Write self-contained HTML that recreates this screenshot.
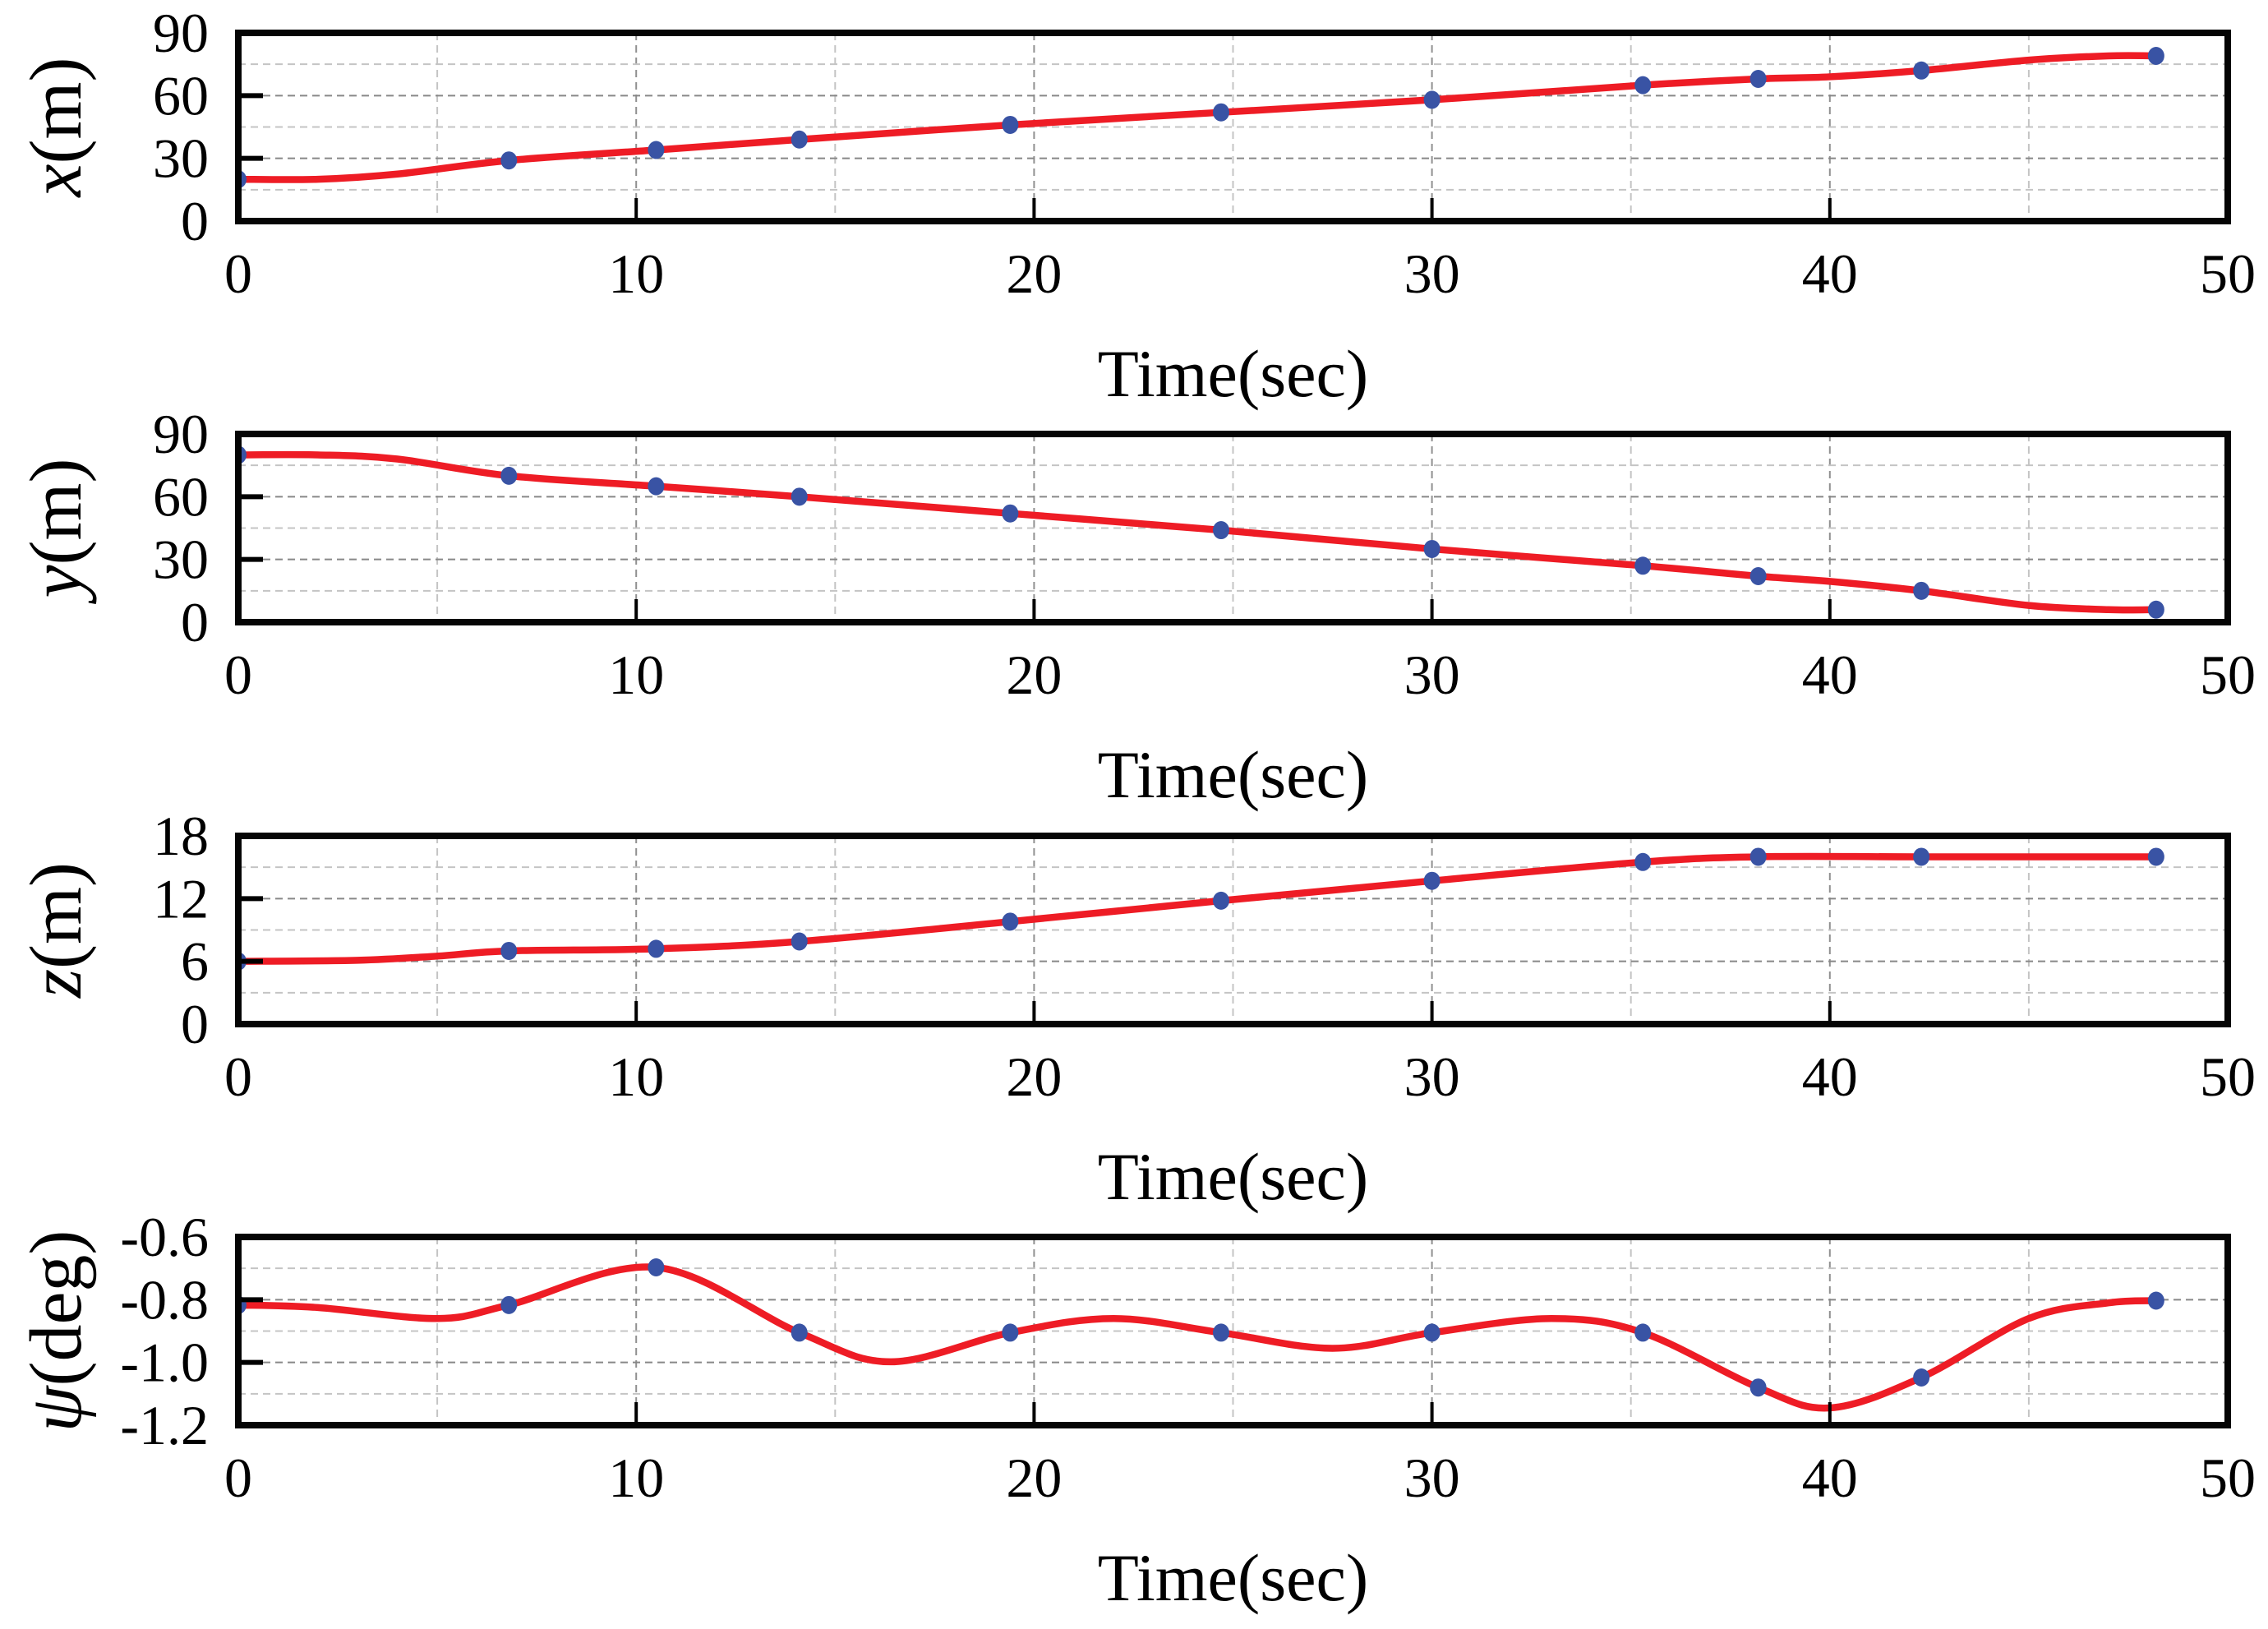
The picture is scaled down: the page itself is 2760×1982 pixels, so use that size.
<!DOCTYPE html>
<html><head><meta charset="utf-8"><style>
html,body{margin:0;padding:0;background:#fff}
svg{display:block}
text{font-family:"Liberation Serif","DejaVu Serif",serif;fill:#000}
</style></head><body>
<svg id="chart" width="2760" height="1982" viewBox="0 0 2760 1982" xmlns="http://www.w3.org/2000/svg"></svg>
<script>
// marker data (shared time axis)
const markerT = [0, 6.8, 10.5, 14.1, 19.4, 24.7, 30, 35.3, 38.2, 42.3, 48.2];
const markerX = [20, 29, 34, 39, 46, 52, 58, 65, 68, 72, 79];
const markerY = [80, 70, 65, 60, 52, 44, 35, 27, 22, 15, 6];
const markerZ = [6, 7, 7.2, 7.9, 9.8, 11.8, 13.7, 15.5, 16, 16, 16];
const markerPsi = [-0.817, -0.817, -0.697, -0.905, -0.905, -0.905, -0.905, -0.905, -1.08, -1.048, -0.803];
// curve data
const curveTX = [0, 2, 4, 6.8, 10.5, 14.1, 19.4, 24.7, 30, 35.3, 38.2, 40, 42.3, 45, 47, 48.2];
const curveX = [20, 20, 22.5, 29, 34, 39, 46, 52, 58, 65, 68, 69, 72, 77, 79, 79];
const curveTY = [0, 2, 4, 6.8, 10.5, 14.1, 19.4, 24.7, 30, 35.3, 38.2, 40, 42.3, 45, 47, 48.2];
const curveY = [80, 80, 78, 70, 65, 60, 52, 44, 35, 27, 22, 19.5, 15, 8, 6, 6];
const curveTZ = [0, 3, 5, 6.8, 10.5, 14.1, 19.4, 24.7, 30, 35.3, 38.2, 42.3, 48.2];
const curveZ = [6, 6.1, 6.5, 7, 7.2, 7.9, 9.8, 11.8, 13.7, 15.5, 16, 16, 16];
const curveTPsi = [0, 2, 5, 6.8, 10.5, 14.1, 16.4, 19.4, 22, 24.7, 27.5, 30, 33, 35.3, 38.2, 40, 42.3, 45, 47, 48.2];
const curvePsi = [-0.817, -0.825, -0.86, -0.817, -0.697, -0.905, -0.998, -0.905, -0.86, -0.905, -0.955, -0.905, -0.86, -0.905, -1.08, -1.145, -1.048, -0.86, -0.81, -0.803];
// ticks
const xTicks = [0, 10, 20, 30, 40, 50];
const yTicksX = ["0", "30", "60", "90"];
const yTicksZ = ["0", "6", "12", "18"];
const yTicksPsi = ["-1.2", "-1.0", "-0.8", "-0.6"];

const NS = "http://www.w3.org/2000/svg";
const svg = document.getElementById('chart');
const L = 290, R = 2711, H = 229;
const tops = [40, 528, 1017, 1505];
function el(tag, attrs, parent) {
  const e = document.createElementNS(NS, tag);
  for (const k in attrs) e.setAttribute(k, attrs[k]);
  (parent || svg).appendChild(e);
  return e;
}
function smoothPath(pts) {
  let d = `M${pts[0][0]},${pts[0][1]}`;
  for (let i = 0; i < pts.length - 1; i++) {
    const p0 = pts[i - 1] || pts[i], p1 = pts[i], p2 = pts[i + 1], p3 = pts[i + 2] || p2;
    const c1 = [p1[0] + (p2[0] - p0[0]) / 6, p1[1] + (p2[1] - p0[1]) / 6];
    const c2 = [p2[0] - (p3[0] - p1[0]) / 6, p2[1] - (p3[1] - p1[1]) / 6];
    d += ` C${c1[0]},${c1[1]} ${c2[0]},${c2[1]} ${p2[0]},${p2[1]}`;
  }
  return d;
}
const panels = [
  {name: 'x', ymin: 0, ymax: 90, ticks: yTicksX, tickVals: [0, 30, 60, 90], ct: curveTX, cv: curveX, mv: markerX, sym: 'x', unit: '(m)'},
  {name: 'y', ymin: 0, ymax: 90, ticks: yTicksX, tickVals: [0, 30, 60, 90], ct: curveTY, cv: curveY, mv: markerY, sym: 'y', unit: '(m)'},
  {name: 'z', ymin: 0, ymax: 18, ticks: yTicksZ, tickVals: [0, 6, 12, 18], ct: curveTZ, cv: curveZ, mv: markerZ, sym: 'z', unit: '(m)'},
  {name: 'psi', ymin: -1.2, ymax: -0.6, ticks: yTicksPsi, tickVals: [-1.2, -1.0, -0.8, -0.6], ct: curveTPsi, cv: curvePsi, mv: markerPsi, sym: 'ψ', unit: '(deg)'}
];
panels.forEach((p, i) => {
  const T = tops[i], B = T + H;
  const g = el('g', {});
  
  
  const xs = t => L + (t / 50) * (R - L);
  const ys = v => B - (v - p.ymin) / (p.ymax - p.ymin) * H;
  const cp = el('clipPath', {id: 'clip' + i}, g);
  el('rect', {x: L, y: T, width: R - L, height: H}, cp);
  for (let k = 1; k < 10; k++) {
    const gx = xs(k * 5);
    const gl = el('line', {x1: gx, x2: gx, y1: T, y2: B, stroke: k % 2 ? '#c4c4c4' : '#909090', 'stroke-width': 2, 'stroke-dasharray': '9 6'}, g);
    
    
  }
  for (let k = 1; k < 6; k++) {
    const v = p.ymin + k * (p.ymax - p.ymin) / 6;
    const gy = ys(v);
    const gl = el('line', {x1: L, x2: R, y1: gy, y2: gy, stroke: k % 2 ? '#c4c4c4' : '#888', 'stroke-width': 2, 'stroke-dasharray': '9 6'}, g);
    
    
  }
  const pts = p.ct.map((t, j) => [xs(t), ys(p.cv[j])]);
  const path = el('path', {d: smoothPath(pts), fill: 'none', stroke: '#ee1c25', 'stroke-width': 8.5, 'clip-path': `url(#clip${i})`}, g);
  
  
  markerT.forEach((t, j) => {
    const c = el('ellipse', {cx: xs(t), cy: ys(p.mv[j]), rx: 10, ry: 11, fill: '#3953a4', 'clip-path': `url(#clip${i})`}, g);
    
    
  });
  xTicks.forEach(t => {
    if (t > 0 && t < 50) el('line', {x1: xs(t), x2: xs(t), y1: B, y2: B - 28, stroke: '#000', 'stroke-width': 4}, g);
    const tx = el('text', {x: xs(t), y: T + 316, 'font-size': 68, 'text-anchor': 'middle'}, g);
    tx.textContent = t;
    
    
  });
  p.tickVals.forEach((v, k) => {
    if (k > 0 && k < 3) el('line', {x1: L, x2: L + 30, y1: ys(v), y2: ys(v), stroke: '#000', 'stroke-width': 6}, g);
    const ty = el('text', {x: 254, y: ys(v) + 23, 'font-size': 68, 'text-anchor': 'end'}, g);
    ty.textContent = p.ticks[k];
    
    
  });
  const fr = el('rect', {x: L, y: T, width: R - L, height: H, fill: 'none', stroke: '#050505', 'stroke-width': 8}, g);
  
  
  const xt = el('text', {x: (L + R) / 2, y: T + 442, 'font-size': 82, 'text-anchor': 'middle'}, g);
  xt.textContent = 'Time(sec)';
  
  
  const yt = el('text', {x: 0, y: 0, 'font-size': 90, 'text-anchor': 'middle', transform: `translate(98,${T + H / 2}) rotate(-90)`}, g);
  const s1 = el('tspan', {'font-style': 'italic'}, yt);
  s1.textContent = p.sym;
  const s2 = el('tspan', {}, yt);
  s2.textContent = p.unit;
  
  
});
</script>
</body></html>
